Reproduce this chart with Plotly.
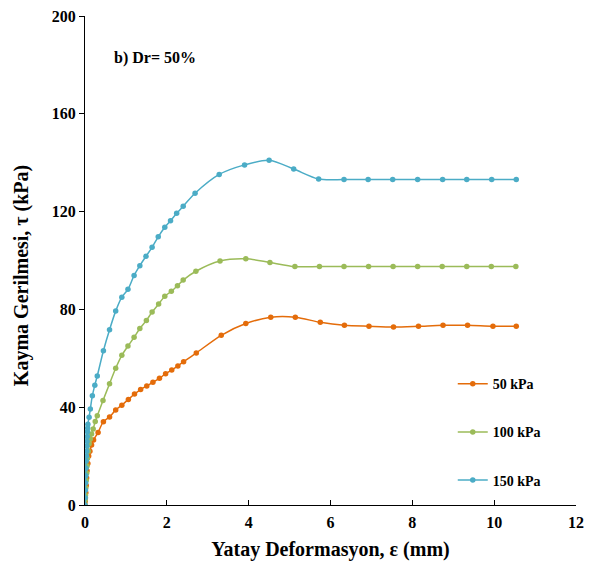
import plotly.graph_objects as go

# 50 kPa
x50 = [0, 0.005, 0.01, 0.02, 0.03, 0.04, 0.05, 0.07, 0.09, 0.12, 0.16, 0.21, 0.32, 0.45, 0.60,
       0.75, 0.90, 1.06, 1.21, 1.36, 1.51, 1.66, 1.82, 1.97, 2.12, 2.27, 2.41, 2.72, 3.33, 3.93,
       4.54, 5.14, 5.75, 6.34, 6.94, 7.54, 8.15, 8.75, 9.35, 9.97, 10.54]
y50 = [0, 1.5, 3, 5, 8, 11, 14, 17, 20, 22, 24.5, 26.6, 29.7, 34.1, 36.0,
       38.9, 40.8, 43.2, 45.4, 47.2, 48.7, 50.2, 51.8, 53.7, 55.2, 56.9, 58.6, 62.2, 69.4, 74.2,
       76.8, 76.8, 74.7, 73.5, 73.1, 72.8, 73.1, 73.5, 73.5, 73.1, 73.1]

# 100 kPa
x100 = [0, 0.005, 0.01, 0.02, 0.03, 0.04, 0.05, 0.06, 0.08, 0.10, 0.13, 0.16, 0.20, 0.25, 0.30,
        0.44, 0.60, 0.75, 0.90, 1.05, 1.20, 1.34, 1.50, 1.64, 1.80, 1.95, 2.11, 2.26, 2.40, 2.71,
        3.30, 3.93, 4.52, 5.13, 5.73, 6.33, 6.93, 7.53, 8.13, 8.73, 9.33, 9.93, 10.53]
y100 = [0, 2, 4, 7, 10, 13, 16, 19, 22, 25, 27, 29, 31.1, 34.2, 36.5,
        42.7, 49.6, 55.9, 61.2, 65.0, 68.6, 72.2, 75.5, 78.9, 82.2, 85.4, 87.4, 89.7, 92.0, 95.6,
        99.8, 100.7, 99.2, 97.5, 97.5, 97.5, 97.5, 97.5, 97.5, 97.5, 97.5, 97.5, 97.5]

# 150 kPa
x150 = [0, 0.005, 0.01, 0.015, 0.02, 0.025, 0.03, 0.035, 0.04, 0.045, 0.05, 0.055, 0.06, 0.065,
        0.07, 0.10, 0.13, 0.18, 0.24, 0.30, 0.45, 0.60, 0.75, 0.90, 1.05, 1.20, 1.34, 1.49, 1.64,
        1.79, 1.95, 2.09, 2.24, 2.40, 2.69, 3.28, 3.90, 4.50, 5.10, 5.71, 6.33, 6.92, 7.52, 8.13,
        8.74, 9.33, 9.94, 10.54]
y150 = [0, 3, 6, 9, 12, 15, 18, 20, 22, 24, 26, 28, 30, 31.5,
        33, 35.9, 39.3, 44.7, 49.0, 52.8, 63.1, 71.7, 79.3, 85.0, 88.2, 93.9, 97.9, 101.7, 105.4,
        109.7, 113.6, 116.3, 119.3, 122.2, 127.5, 135.2, 139.1, 141.0, 137.4, 133.3, 133.1, 133.1, 133.1, 133.1,
        133.1, 133.1, 133.1, 133.1]

series = [("50 kPa", x50, y50, "#E46C0A"),
          ("100 kPa", x100, y100, "#9BBB59"),
          ("150 kPa", x150, y150, "#4BACC6")]

FONT = "Liberation Serif"

fig = go.Figure()
for name, xs, ys, col in series:
    fig.add_trace(go.Scatter(
        x=xs, y=ys, name=name, mode="lines+markers",
        line=dict(color=col, width=1.5, shape="spline", smoothing=0.8),
        marker=dict(color=col, size=5.5),
        legendgroup=name,
    ))

fig.add_annotation(x=0.055, y=0.915, xref="paper", yref="paper", text="<b>b) Dr= 50%</b>",
                   showarrow=False, xanchor="left", yanchor="middle",
                   font=dict(family=FONT, size=16, color="black"))

# y-axis title (placed as rotated text to match the reference position)
fig.add_annotation(x=0, y=0.468, xref="paper", yref="paper", xshift=-64,
                   text="<b>Kayma Gerilmesi, τ (kPa)</b>", textangle=-90,
                   showarrow=False, xanchor="center", yanchor="middle",
                   font=dict(family=FONT, size=20, color="black"))

fig.update_layout(
    width=598, height=564,
    margin=dict(l=85, r=22, t=16, b=59),
    paper_bgcolor="white", plot_bgcolor="white",
    font=dict(family=FONT, color="black"),
    legend=dict(x=0.749, y=0.28, xanchor="left", yanchor="top",
                tracegroupgap=27, itemwidth=30,
                font=dict(family=FONT, size=14, color="black", weight="bold"),
                bgcolor="rgba(0,0,0,0)"),
    showlegend=True,
)
fig.update_xaxes(range=[0, 12], dtick=2, showgrid=False, zeroline=False, automargin=False,
                 showline=True, linecolor="black", linewidth=1.2,
                 ticks="inside", ticklen=5, tickcolor="black", ticklabelstandoff=3,
                 tickfont=dict(family=FONT, size=16, color="black", weight="bold"),
                 title=dict(text="<b>Yatay Deformasyon, ε (mm)</b>", standoff=11,
                            font=dict(family=FONT, size=20, color="black")))
fig.update_yaxes(range=[0, 200], dtick=40, showgrid=False, zeroline=False, automargin=False,
                 showline=True, linecolor="black", linewidth=1.2,
                 ticks="outside", ticklen=5, tickcolor="black",
                 tickfont=dict(family=FONT, size=16, color="black", weight="bold"))

fig.write_html("out.html", config={"displayModeBar": False},
               post_script="document.body.style.margin='0';")
